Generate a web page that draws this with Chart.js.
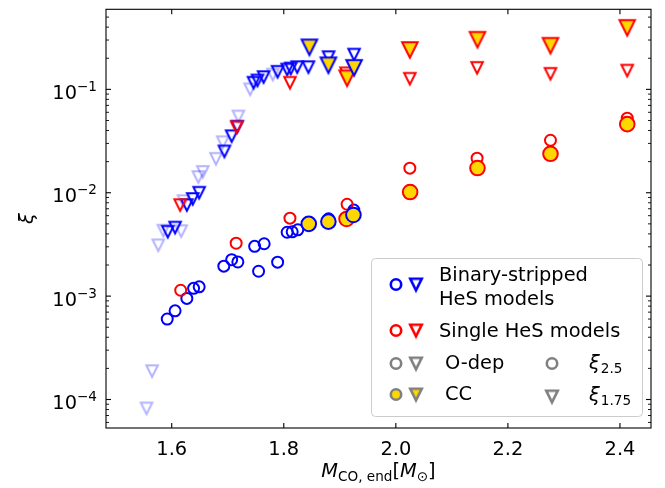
<!DOCTYPE html>
<html lang="en">
<head>
  <meta charset="UTF-8" />
  <title>Compactness vs CO core mass</title>
  <script src="https://cdn.jsdelivr.net/npm/chart.js"></script>
  <style>
    body {
      margin: 0;
      background: #ffffff;
    }
    #xiChart {
      display: block;
    }
  </style>
</head>
<body>
  <canvas id="xiChart" width="665" height="488"></canvas>

  <script>
    // binary-stripped He stars, O depletion
    const binXi25Mass = [1.592, 1.606, 1.627, 1.639, 1.649, 1.693, 1.707, 1.718, 1.748, 1.755, 1.765, 1.789, 1.806, 1.815, 1.825, 1.845, 1.880, 1.925];
    const binXi25 = [6.0e-4, 7.2e-4, 9.5e-4, 1.19e-3, 1.23e-3, 1.95e-3, 2.25e-3, 2.14e-3, 3.03e-3, 1.74e-3, 3.21e-3, 2.13e-3, 4.15e-3, 4.19e-3, 4.38e-3, 5.1e-3, 5.6e-3, 6.8e-3];
    const binXi175Mass = [1.593, 1.606, 1.627, 1.6375, 1.649, 1.694, 1.707, 1.717, 1.746, 1.753, 1.764, 1.789, 1.806, 1.8125, 1.824, 1.844, 1.880, 1.9255];
    const binXi175 = [4.2e-3, 4.6e-3, 7.6e-3, 8.7e-3, 1.0e-2, 0.0251, 0.0352, 0.0436, 0.116, 0.122, 0.1315, 0.148, 0.1556, 0.159, 0.164, 0.164, 0.205, 0.217];

    // binary models with xi_1.75 only (drawn faint)
    const faintMass = [1.555, 1.565, 1.576, 1.585, 1.617, 1.621, 1.6475, 1.6554, 1.679, 1.691, 1.719, 1.740, 1.7804];
    const faintXi175 = [8.2e-5, 1.88e-4, 3.1e-3, 4.3e-3, 4.25e-3, 8.3e-3, 0.0142, 0.0159, 0.0213, 0.0308, 0.0547, 0.100, 0.139];

    // binary-stripped, core collapse
    const binCCMass = [1.8446, 1.8796, 1.9243];
    const binCCXi25 = [5.0e-3, 5.26e-3, 6.1e-3];
    const binCCXi175Mass = [1.8457, 1.8796, 1.9255];
    const binCCXi175 = [0.255, 0.171, 0.1615];

    // single He stars, O depletion
    const sinXi25Mass = [1.616, 1.715, 1.811, 1.913, 2.025, 2.145, 2.276, 2.413];
    const sinXi25 = [1.14e-3, 3.25e-3, 5.68e-3, 7.74e-3, 0.0173, 0.0216, 0.0322, 0.0527];
    const sinXi175Mass = [1.615, 1.716, 1.811, 1.911, 2.025, 2.145, 2.276, 2.413];
    const sinXi175 = [7.6e-3, 0.0429, 0.116, 0.143, 0.1267, 0.1616, 0.1415, 0.152];

    // single He stars, core collapse
    const sinCCMass = [1.912, 2.0255, 2.1457, 2.276, 2.413];
    const sinCCXi25 = [5.58e-3, 0.01016, 0.01734, 0.0238, 0.0461];
    const sinCCXi175Mass = [1.913, 2.025, 2.1457, 2.276, 2.413];
    const sinCCXi175 = [0.128, 0.2405, 0.302, 0.2644, 0.3936];

    const xTicks = [1.6, 1.8, 2.0, 2.2, 2.4];
    const xTickLabels = ['1.6', '1.8', '2.0', '2.2', '2.4'];
    const yTicks = [1e-4, 1e-3, 1e-2, 1e-1];
    const yTickExps = ['\u22124', '\u22123', '\u22122', '\u22121'];

    const FONT = '"DejaVu Sans", sans-serif';
    const FS = 19.4;
    const BLUE = '#0000ff', RED = '#ff0000', GOLD = '#ffd700', GREY = '#808080';
    const FAINT = 'rgba(0,0,255,0.3)';
    const LW = 2;
    const R_DEP = 5.5, R_CC = 7.3;
    const T_DEP = 11.5, T_CC = 15.5;

    // matplotlib-style 'v' marker as a small canvas sprite
    function triangle(side, stroke, fill, lw) {
      const pad = 5;
      const size = Math.ceil(side) + pad * 2;
      const c = document.createElement('canvas');
      c.width = c.height = size;
      const g = c.getContext('2d');
      const m = size / 2, h = side / 2;
      g.beginPath();
      g.moveTo(m - h, m - h);
      g.lineTo(m + h, m - h);
      g.lineTo(m, m + h);
      g.closePath();
      if (fill) { g.fillStyle = fill; g.fill(); }
      g.lineWidth = lw || LW;
      g.lineJoin = 'miter';
      g.strokeStyle = stroke;
      g.stroke();
      return c;
    }

    const pts = (xs, ys) => xs.map((x, i) => ({ x: x, y: ys[i] }));

    function circles(xs, ys, edge, fill, r) {
      return {
        data: pts(xs, ys),
        pointStyle: 'circle',
        pointRadius: r,
        borderWidth: LW,
        borderColor: edge,
        backgroundColor: fill || 'rgba(0,0,0,0)'
      };
    }

    function triangles(xs, ys, sprite) {
      return {
        data: pts(xs, ys),
        pointStyle: sprite,
        pointRadius: 6,
        borderWidth: 0
      };
    }

    const sprites = {
      blue: triangle(T_DEP, BLUE),
      red: triangle(T_DEP, RED),
      faint: triangle(T_DEP, FAINT),
      blueCC: triangle(T_CC, BLUE, GOLD),
      redCC: triangle(T_CC, RED, GOLD),
      // legend handles use a heavier edge
      blueKey: triangle(T_DEP, BLUE, null, 2.6),
      redKey: triangle(T_DEP, RED, null, 2.6),
      greyKey: triangle(T_DEP, GREY, null, 2.6),
      greyCCKey: triangle(T_DEP, GREY, GOLD, 2.6)
    };

    function drawText(ctx, str, x, y, size, italic, align) {
      ctx.font = (italic ? 'italic ' : '') + size + 'px ' + FONT;
      ctx.textAlign = align || 'left';
      ctx.fillText(str, x, y);
      return ctx.measureText(str).width;
    }

    function measure(ctx, str, size, italic) {
      ctx.font = (italic ? 'italic ' : '') + size + 'px ' + FONT;
      return ctx.measureText(str).width;
    }

    function handleCircle(ctx, cx, cy, edge, fill) {
      ctx.beginPath();
      ctx.arc(cx, cy, R_DEP - 0.3, 0, Math.PI * 2);
      if (fill) { ctx.fillStyle = fill; ctx.fill(); }
      ctx.lineWidth = 2.6;
      ctx.strokeStyle = edge;
      ctx.stroke();
    }

    function handleTri(ctx, cx, cy, sprite) {
      ctx.drawImage(sprite, cx - sprite.width / 2, cy - sprite.height / 2);
    }

    const decor = {
      id: 'decor',
      afterDraw(chart) {
        const { ctx, chartArea: a, scales } = chart;
        const xs = scales.x, ys = scales.y;
        ctx.save();
        ctx.fillStyle = '#000';
        ctx.strokeStyle = '#000';
        ctx.textBaseline = 'alphabetic';

        // frame
        ctx.lineWidth = 1.1;
        ctx.strokeRect(a.left, a.top, a.right - a.left, a.bottom - a.top);

        const seg = (x1, y1, x2, y2) => {
          ctx.beginPath(); ctx.moveTo(x1, y1); ctx.lineTo(x2, y2); ctx.stroke();
        };

        // x ticks, pointing inward on bottom and top
        ctx.lineWidth = 1.1;
        xTicks.forEach((v, i) => {
          const px = xs.getPixelForValue(v);
          seg(px, a.bottom, px, a.bottom - 5);
          seg(px, a.top, px, a.top + 5);
          ctx.fillStyle = '#000';
          drawText(ctx, xTickLabels[i], px, a.bottom + 27, FS, false, 'center');
        });

        // y minor ticks
        for (let e = -5; e <= 0; e++) {
          for (let k = 2; k <= 9; k++) {
            const v = k * Math.pow(10, e);
            if (v < ys.min || v > ys.max) continue;
            const py = ys.getPixelForValue(v);
            ctx.lineWidth = 0.9;
            seg(a.left, py, a.left + 3, py);
            seg(a.right, py, a.right - 3, py);
          }
        }

        // y major ticks with 10^n labels
        yTicks.forEach((v, i) => {
          const py = ys.getPixelForValue(v);
          ctx.lineWidth = 1.1;
          seg(a.left, py, a.left + 5, py);
          seg(a.right, py, a.right - 5, py);
          const expSize = FS * 0.7;
          const wExp = measure(ctx, yTickExps[i], expSize);
          const wBase = measure(ctx, '10', FS);
          const right = a.left - 9;
          drawText(ctx, '10', right - wExp - wBase, py + 9.5, FS);
          drawText(ctx, yTickExps[i], right - wExp, py + 1.5, expSize);
        });

        // y title
        ctx.save();
        ctx.translate(33, (a.top + a.bottom) / 2);
        ctx.rotate(-Math.PI / 2);
        drawText(ctx, '\u03be', 0, 0, FS, true, 'center');
        ctx.restore();

        // x title: M_{CO, end}[M_sun]
        const sub = FS * 0.7;
        const parts = [
          { t: 'M', s: FS, it: true, dy: 0 },
          { t: 'CO, end', s: sub, it: false, dy: 4 },
          { t: '[', s: FS, it: false, dy: 0 },
          { t: 'M', s: FS, it: true, dy: 0 },
          { t: '\u2299', s: sub, it: false, dy: 4 },
          { t: ']', s: FS, it: false, dy: 0 }
        ];
        const total = parts.reduce((w, p) => w + measure(ctx, p.t, p.s, p.it), 0);
        let tx = (a.left + a.right) / 2 - total / 2;
        const tBase = a.bottom + 49;
        parts.forEach(p => {
          tx += drawText(ctx, p.t, tx, tBase + p.dy, p.s, p.it);
        });

        // legend box
        ctx.beginPath();
        ctx.roundRect(371.5, 258.5, 271, 158, 4);
        ctx.fillStyle = 'rgba(255,255,255,0.8)';
        ctx.fill();
        ctx.lineWidth = 1;
        ctx.strokeStyle = '#cccccc';
        ctx.stroke();

        const cx1 = 396, cx2 = 416;
        handleCircle(ctx, cx1, 284.5, BLUE);
        handleTri(ctx, cx2, 284.5, sprites.blueKey);
        handleCircle(ctx, cx1, 330.5, RED);
        handleTri(ctx, cx2, 330.5, sprites.redKey);
        handleCircle(ctx, cx1, 363.5, GREY);
        handleTri(ctx, cx2, 363.5, sprites.greyKey);
        handleCircle(ctx, cx1, 394.5, GREY, GOLD);
        handleTri(ctx, cx2, 394.5, sprites.greyCCKey);
        handleCircle(ctx, 552, 363.5, GREY);
        handleTri(ctx, 552, 396.5, sprites.greyKey);

        ctx.fillStyle = '#000';
        drawText(ctx, 'Binary-stripped', 439, 281, FS);
        drawText(ctx, 'HeS models', 439, 305, FS);
        drawText(ctx, 'Single HeS models', 439, 337, FS);
        drawText(ctx, 'O-dep', 445, 369, FS);
        drawText(ctx, 'CC', 445, 400, FS);
        let w = drawText(ctx, '\u03be', 589, 369, FS, true);
        drawText(ctx, '2.5', 589 + w + 1, 373, sub);
        w = drawText(ctx, '\u03be', 589, 401, FS, true);
        drawText(ctx, '1.75', 589 + w + 1, 405, sub);

        ctx.restore();
      }
    };

    new Chart(document.getElementById('xiChart'), {
      type: 'scatter',
      data: {
        datasets: [
          // first listed is drawn on top
          triangles(binCCXi175Mass, binCCXi175, sprites.blueCC),
          circles(binCCMass, binCCXi25, BLUE, GOLD, R_CC),
          triangles(sinCCXi175Mass, sinCCXi175, sprites.redCC),
          circles(sinCCMass, sinCCXi25, RED, GOLD, R_CC),
          triangles(sinXi175Mass, sinXi175, sprites.red),
          circles(sinXi25Mass, sinXi25, RED, null, R_DEP),
          triangles(binXi175Mass, binXi175, sprites.blue),
          circles(binXi25Mass, binXi25, BLUE, null, R_DEP),
          triangles(faintMass, faintXi175, sprites.faint)
        ]
      },
      options: {
        responsive: false,
        animation: false,
        devicePixelRatio: 1,
        layout: { padding: { left: 106, right: 14, top: 6, bottom: 60 } },
        plugins: {
          legend: { display: false },
          tooltip: { enabled: false }
        },
        scales: {
          x: { type: 'linear', min: 1.4827, max: 2.4554, display: false },
          y: { type: 'logarithmic', min: 5.30e-5, max: 0.595, display: false }
        }
      },
      plugins: [decor]
    });
  </script>
</body>
</html>
